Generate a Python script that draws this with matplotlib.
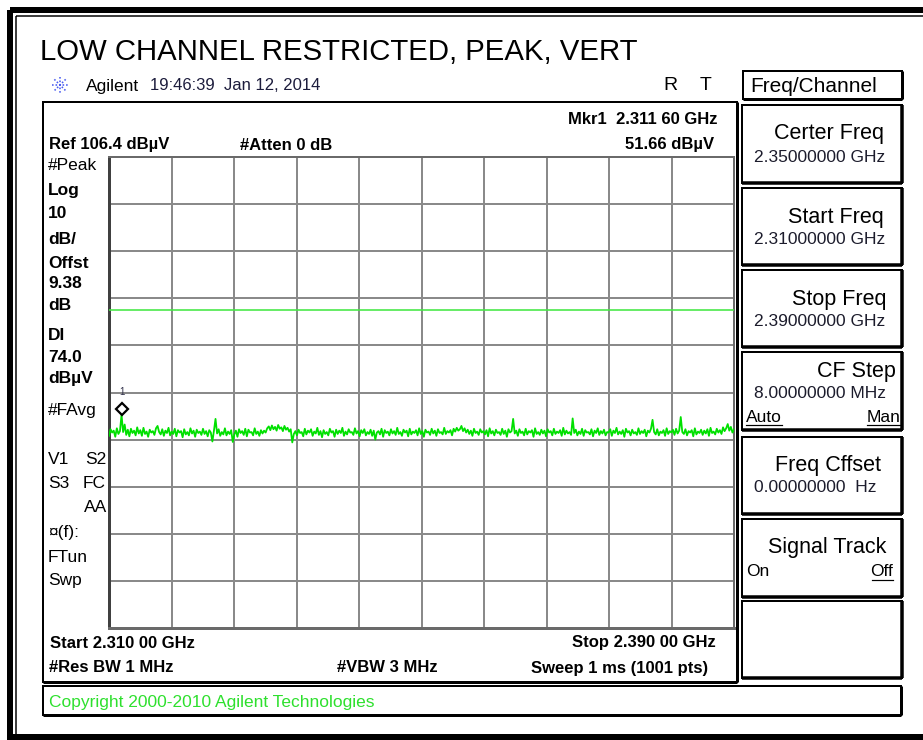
import matplotlib
matplotlib.use('Agg')
import matplotlib.pyplot as plt
import matplotlib.transforms as mtransforms
from matplotlib.patches import Rectangle
import numpy as np

W_PX, H_PX, DPI = 923, 740, 100
FONT = 'Liberation Sans'

TITLE = 'LOW CHANNEL RESTRICTED, PEAK, VERT'

# sweep settings
START_GHZ = 2.310
STOP_GHZ = 2.390
REF_LEVEL = 106.4
DB_PER_DIV = 10
DISPLAY_LINE = 74.0
MKR_FREQ = 2.3116
MKR_LEVEL = 51.66

# peak trace (dBuV)
trace = [
    47.2, 48.6, 47.9, 48.3, 47.0, 48.8, 47.6, 48.2, 51.66, 48.0, 49.6, 47.4, 48.5, 47.1, 48.7, 47.8, 48.3, 47.3, 49.0, 47.7,
    48.4, 47.2, 48.9, 47.6, 48.1, 47.0, 48.5, 47.9, 48.2, 47.4, 48.8, 49.3, 48.0, 47.5, 48.6, 47.2, 48.3, 47.8, 48.9, 47.3,
    48.1, 47.6, 48.7, 47.1, 48.4, 47.9, 48.2, 46.9, 48.6, 47.5, 48.0, 47.3, 48.8, 47.7, 48.3, 47.0, 48.5, 47.8, 48.1, 47.4,
    48.7, 47.6, 48.2, 47.1, 48.4, 47.9, 46.0, 48.3, 50.8, 47.7, 48.6, 47.2, 48.0, 47.5, 48.8, 47.3, 48.1, 47.6, 48.4, 45.9,
    47.5, 48.3, 47.0, 48.6, 47.8, 48.2, 47.4, 48.7, 47.1, 48.5, 47.9, 48.0, 47.3, 48.8, 47.6, 48.1, 47.2, 48.4, 47.7, 48.3,
    47.9, 48.8, 49.2, 48.4, 49.4, 48.6, 49.1, 48.3, 49.5, 48.7, 49.0, 48.2, 49.3, 48.5, 48.9, 48.1, 48.6, 45.8, 47.6, 48.2,
    47.3, 48.5, 47.8, 48.0, 47.1, 48.7, 47.5, 48.3, 47.9, 48.6, 47.2, 48.1, 47.7, 48.9, 47.4, 48.2, 46.9, 48.4, 47.6, 48.0,
    47.3, 48.7, 47.9, 48.2, 47.0, 48.5, 47.6, 48.3, 47.8, 48.9, 47.2, 48.1, 47.5, 48.6, 47.9, 48.0, 47.4, 48.8, 47.7, 48.2,
    47.1, 48.4, 47.8, 48.6, 47.3, 48.0, 47.6, 48.5, 47.2, 48.3, 46.4, 47.9, 48.2, 47.5, 48.7, 47.0, 48.4, 47.8, 48.1, 47.3,
    48.6, 47.7, 48.2, 47.4, 48.9, 47.6, 48.0, 47.2, 48.5, 47.9, 48.3, 47.1, 48.7, 47.5, 48.1, 47.8, 48.4, 47.3, 48.8, 47.6,
    48.2, 47.0, 48.5, 47.9, 48.1, 47.4, 48.7, 47.7, 48.3, 47.2, 48.6, 47.8, 48.0, 47.5, 48.9, 47.6, 48.2, 47.9, 48.4, 47.3,
    48.7, 48.1, 48.9, 48.3, 48.6, 49.3, 48.2, 48.8, 47.9, 48.5, 47.6, 48.3, 47.2, 48.7, 47.8, 48.1, 47.4, 48.6, 47.9, 48.2,
    47.5, 48.4, 47.1, 48.8, 47.7, 48.2, 47.3, 48.5, 47.8, 48.0, 47.4, 48.7, 47.6, 48.3, 47.0, 48.6, 47.9, 48.2, 50.8, 47.7,
    48.3, 47.2, 48.6, 47.8, 48.1, 47.3, 48.7, 47.5, 48.2, 47.9, 48.4, 47.0, 48.8, 47.6, 48.0, 47.4, 48.5, 47.7, 48.3, 47.1,
    48.6, 47.9, 48.2, 47.3, 48.7, 47.6, 48.1, 47.8, 48.4, 47.2, 48.9, 47.5, 48.3, 47.7, 48.0, 47.4, 50.9, 47.8, 48.5, 47.3,
    48.1, 47.6, 48.7, 47.2, 48.4, 47.9, 48.0, 47.5, 48.6, 47.1, 48.3, 47.8, 48.8, 47.4, 48.2, 47.7, 48.5, 47.3, 48.0, 47.9,
    48.6, 47.2, 48.3, 47.8, 48.9, 47.5, 48.1, 47.6, 48.4, 47.0, 48.7, 47.9, 48.2, 47.3, 48.5, 47.7, 48.0, 47.4, 48.8, 47.6,
    48.2, 47.8, 48.5, 47.1, 48.3, 47.9, 48.7, 50.6, 48.0, 47.5, 48.6, 47.3, 48.1, 47.8, 48.4, 47.2, 48.8, 47.6, 48.2, 47.9,
    48.5, 47.4, 48.7, 47.7, 48.3, 51.2, 48.0, 47.6, 48.6, 47.3, 48.2, 47.9, 48.4, 47.1, 48.8, 47.5, 48.1, 47.8, 48.5, 47.4,
    48.3, 47.7, 48.6, 47.2, 48.9, 47.8, 48.1, 47.5, 48.7, 47.9, 48.4, 47.6, 49.0, 48.2, 48.8, 49.7, 48.3, 49.1, 47.9, 48.6,
]

# text on the analyzer screen
left_labels = [
    ('#Peak', 166, 'normal'), ('Log', 191, 'bold'), ('10', 214, 'bold'), ('dB/', 239, 'bold'),
    ('Offst', 263, 'bold'), ('9.38', 284, 'bold'), ('dB', 306, 'bold'), ('DI', 336, 'bold'),
    ('74.0', 358, 'bold'), ('dBµV', 379, 'bold'), ('#FAvg', 411, 'normal'),
    ('V1', 459, 'normal'), ('S3', 483, 'normal'), ('¤(f):', 532, 'normal'),
    ('FTun', 557, 'normal'), ('Swp', 581, 'normal'),
]

softkeys = [
    # top, bottom, title, value, title right edge, title offset, value offset
    (105, 183, 'Certer Freq', '2.35000000 GHz', 884, 29, 52),
    (188, 265, 'Start Freq', '2.31000000 GHz', 884, 29, 52),
    (270, 347, 'Stop Freq', '2.39000000 GHz', 886, 29, 52),
    (352, 430, 'CF Step', '8.00000000 MHz', 896, 19, 41),
    (437, 514, 'Freq Cffset', '0.00000000  Hz', 881, 29, 51),
    (519, 597, 'Signal Track', '', 886, 29, 0),
    (601, 678, '', '', 0, 0, 0),
]

fig = plt.figure(figsize=(W_PX / DPI, H_PX / DPI), dpi=DPI)
fig.patch.set_facecolor('white')

# overlay in pixel coordinates for the screen furniture
ov = fig.add_axes([0, 0, 1, 1])
ov.set_xlim(0, W_PX)
ov.set_ylim(H_PX, 0)
ov.axis('off')

PX = 72 / DPI  # one pixel in points


def box(x0, y0, x1, y1, lw=2, shadow=3):
    ov.add_patch(Rectangle((x0, y0), x1 - x0, y1 - y0, fill=False,
                           edgecolor='black', linewidth=lw * PX))
    ov.plot([x1, x1], [y0, y1], color='black', lw=shadow * PX, solid_capstyle='butt')
    ov.plot([x0, x1], [y1, y1], color='black', lw=shadow * PX, solid_capstyle='butt')


def txt(x, y, s, size=12.5, weight='normal', ha='left', color='black'):
    ov.text(x, y, s, fontsize=size, fontweight=weight, ha=ha, va='center',
            color=color, family=FONT)


# outer frame
ov.add_patch(Rectangle((10, 10), 940, 727, fill=False, edgecolor='black', linewidth=6 * PX))
ov.add_patch(Rectangle((15.5, 15.5), 940, 719, fill=False, edgecolor='black', linewidth=1.5 * PX))

txt(40, 52, TITLE, size=21.2)

# agilent logo
for a in np.linspace(0, np.pi, 4, endpoint=False):
    dx, dy = 8 * np.cos(a), 8 * np.sin(a)
    ov.plot([60 - dx, 60 + dx], [85 - dy, 85 + dy], color='#4a5cf0', lw=1.6 * PX, ls=(0, (1, 1.2)))
txt(86, 86, 'Agilent', size=12.5)
txt(150, 86, '19:46:39  Jan 12, 2014', size=12, color='#1c1c3c')
txt(663, 86, 'R', size=14)
txt(700, 86, 'T', size=14)

# main screen
box(43, 102, 737, 682, lw=2, shadow=3)
txt(49, 145, 'Ref 106.4 dBµV', size=12, weight='bold')
txt(240, 145, '#Atten 0 dB', size=12, weight='bold')
txt(718, 119, 'Mkr1  2.311 60 GHz', size=12, weight='bold', ha='right')
txt(714, 145, '51.66 dBµV', size=12, weight='bold', ha='right')
for s, y, w in left_labels:
    txt(48, y, s, size=12.5, weight=w)
txt(85, 459, 'S2', size=12.5)
txt(83, 483, 'FC', size=12.5)
txt(107, 507, 'AA', size=12.5, ha='right')
txt(50, 643, 'Start 2.310 00 GHz', size=12, weight='bold')
txt(716, 643, 'Stop 2.390 00 GHz', size=12, weight='bold', ha='right')
txt(49, 668, '#Res BW 1 MHz', size=12, weight='bold')
txt(337, 668, '#VBW 3 MHz', size=12, weight='bold')
txt(708, 668, 'Sweep 1 ms (1001 pts)', size=12, weight='bold', ha='right')

# copyright bar
box(43, 686, 901, 715, lw=2, shadow=3)
txt(49, 702, 'Copyright 2000-2010 Agilent Technologies', size=12.5, color='#2ee02e')

# softkey panel
box(743, 71, 902, 99, lw=2, shadow=3)
txt(750, 86, 'Freq/Channel', size=15)
for top, bot, title, val, t_right, t_off, v_off in softkeys:
    box(742, top, 902, bot, lw=2, shadow=3.5)
    if title:
        txt(t_right, top + t_off, title, size=15.5, ha='right')
    if val:
        txt(754, top + v_off, val, size=12.5, color='#1c1c2c')
txt(746, 417, 'Auto', size=12.5)
txt(901, 417, 'Man', size=12.5, ha='right')
txt(746, 572, 'On', size=12.5)
txt(893, 572, 'Off', size=12.5, ha='right')
for x0, x1, y in [(746, 782, 425), (867, 901, 425), (872, 893, 580)]:
    ov.plot([x0, x1], [y, y], color='black', lw=1.2 * PX)

# trace graticule
gl, gt, gw, gh = 109, 157, 625, 471
ax = fig.add_axes([gl / W_PX, 1 - (gt + gh) / H_PX, gw / W_PX, gh / H_PX])
ax.set_facecolor('white')
bottom_level = REF_LEVEL - 10 * DB_PER_DIV
ax.set_xlim(START_GHZ, STOP_GHZ)
ax.set_ylim(bottom_level, REF_LEVEL)
ax.set_xticks(np.linspace(START_GHZ, STOP_GHZ, 11))
ax.set_yticks(np.linspace(bottom_level, REF_LEVEL, 11))
ax.tick_params(length=0, labelbottom=False, labelleft=False)
ax.grid(True, color='#8a8a8a', lw=2 * PX)
for side, sp in ax.spines.items():
    sp.set_color('#6a6a6a')
    sp.set_linewidth(2 * PX)
ax.spines['left'].set_color('#404040')
ax.spines['left'].set_linewidth(3 * PX)
ax.spines['bottom'].set_linewidth(3 * PX)

freqs = np.linspace(START_GHZ, STOP_GHZ, len(trace))
ax.axhline(DISPLAY_LINE, color='#44e844', lw=1.6 * PX, zorder=3)
ax.plot(freqs, trace, color='#00e000', lw=1.8 * PX, zorder=4)

up = mtransforms.offset_copy(ax.transData, fig=fig, x=0, y=6, units='dots')
ax.plot([MKR_FREQ], [MKR_LEVEL], marker='D', ms=6.5, mfc='white', mec='black',
        mew=1.6, transform=up, zorder=5, clip_on=False)
ax.annotate('1', (MKR_FREQ, MKR_LEVEL), xytext=(0, 23), textcoords='offset pixels',
            ha='center', va='center', fontsize=7, color='#30304a', family=FONT)

fig.savefig('out.png', dpi=DPI)
